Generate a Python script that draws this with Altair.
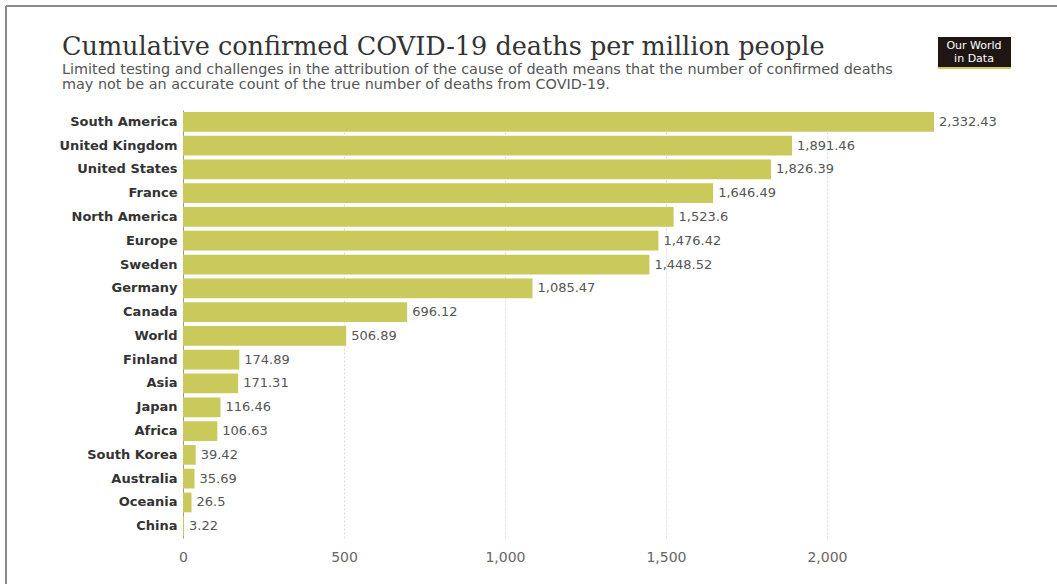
import altair as alt
import pandas as pd

# Cumulative confirmed COVID-19 deaths per million people
entities = [
    "South America", "United Kingdom", "United States", "France",
    "North America", "Europe", "Sweden", "Germany", "Canada", "World",
    "Finland", "Asia", "Japan", "Africa", "South Korea", "Australia",
    "Oceania", "China",
]
deaths_per_million = [
    2332.43, 1891.46, 1826.39, 1646.49, 1523.6, 1476.42, 1448.52,
    1085.47, 696.12, 506.89, 174.89, 171.31, 116.46, 106.63, 39.42,
    35.69, 26.5, 3.22,
]
value_labels = [
    "2,332.43", "1,891.46", "1,826.39", "1,646.49", "1,523.6", "1,476.42",
    "1,448.52", "1,085.47", "696.12", "506.89", "174.89", "171.31",
    "116.46", "106.63", "39.42", "35.69", "26.5", "3.22",
]
x_ticks = [0, 500, 1000, 1500, 2000]

title_text = "Cumulative confirmed COVID-19 deaths per million people"
subtitle_lines = [
    "Limited testing and challenges in the attribution of the cause of death means that the number of confirmed deaths",
    "may not be an accurate count of the true number of deaths from COVID-19.",
]

df = pd.DataFrame({"entity": entities, "value": deaths_per_million, "label": value_labels})
one = pd.DataFrame({"k": [0]})

SANS = "DejaVu Sans"
BAR = "#c9c95c"

y_enc = alt.Y("entity:N", sort=entities, title=None,
              scale=alt.Scale(paddingInner=0.17, paddingOuter=0.08),
              axis=alt.Axis(labelFont=SANS, labelFontSize=13, labelFontWeight="bold",
                            labelColor="#333333", ticks=False, labelPadding=6,
                            domainColor="#9a9a9a", domainWidth=1))
x_enc = alt.X("value:Q", title=None,
              scale=alt.Scale(domain=[0, 2332.43], nice=False),
              axis=alt.Axis(values=x_ticks, format=",.0f", labelFont=SANS, labelFontSize=14,
                            labelColor="#666666", ticks=False, domain=False,
                            labelPadding=12, grid=True, gridColor="#dcdcdc",
                            gridDash=[2, 2], labelFlush=False))

bars = alt.Chart(df).mark_bar(color=BAR).encode(x=x_enc, y=y_enc)
labels = alt.Chart(df).mark_text(align="left", dx=5, font=SANS, fontSize=13,
                                 color="#555555").encode(
    x=x_enc, y=y_enc, text="label:N")

# Heading and notes
title = alt.Chart(one).mark_text(text=title_text, align="left", baseline="alphabetic",
                                 font="DejaVu Serif", fontSize=25.5, color="#333333").encode(
    x=alt.value(-121), y=alt.value(-55))
sub1 = alt.Chart(one).mark_text(text=subtitle_lines[0], align="left", baseline="alphabetic",
                                font=SANS, fontSize=14.4, color="#555555").encode(
    x=alt.value(-121), y=alt.value(-36))
sub2 = alt.Chart(one).mark_text(text=subtitle_lines[1], align="left", baseline="alphabetic",
                                font=SANS, fontSize=14.4, color="#555555").encode(
    x=alt.value(-121), y=alt.value(-21))

# Logo block
logo_bg = alt.Chart(one).mark_rect(color="#1f1614").encode(
    x=alt.value(755), x2=alt.value(828), y=alt.value(-73), y2=alt.value(-43))
logo_stripe = alt.Chart(one).mark_rect(color="#c9c95c").encode(
    x=alt.value(755), x2=alt.value(828), y=alt.value(-43), y2=alt.value(-41))
logo_text1 = alt.Chart(one).mark_text(text="Our World", color="white", font=SANS,
                                      fontSize=11, align="center", baseline="alphabetic").encode(
    x=alt.value(791), y=alt.value(-61))
logo_text2 = alt.Chart(one).mark_text(text="in Data", color="white", font=SANS,
                                      fontSize=11, align="center", baseline="alphabetic").encode(
    x=alt.value(791), y=alt.value(-48))

# Frame lines along top and left edges
frame_top = alt.Chart(one).mark_rule(color="#8a8a8a", strokeWidth=2).encode(
    x=alt.value(-177), x2=alt.value(880), y=alt.value(-104))
frame_left = alt.Chart(one).mark_rule(color="#8a8a8a", strokeWidth=2).encode(
    x=alt.value(-177), y=alt.value(-104), y2=alt.value(480))

chart = alt.layer(
    bars, labels, title, sub1, sub2, logo_bg, logo_stripe, logo_text1, logo_text2,
    frame_top, frame_left
).properties(
    width=751,
    height=428,
    background="white",
    autosize=alt.AutoSizeParams(type="none"),
    padding={"left": 183, "top": 110, "right": 123, "bottom": 46},
).configure_view(stroke=None)

chart.save("out.html", embed_options={"renderer": "svg", "actions": False})
